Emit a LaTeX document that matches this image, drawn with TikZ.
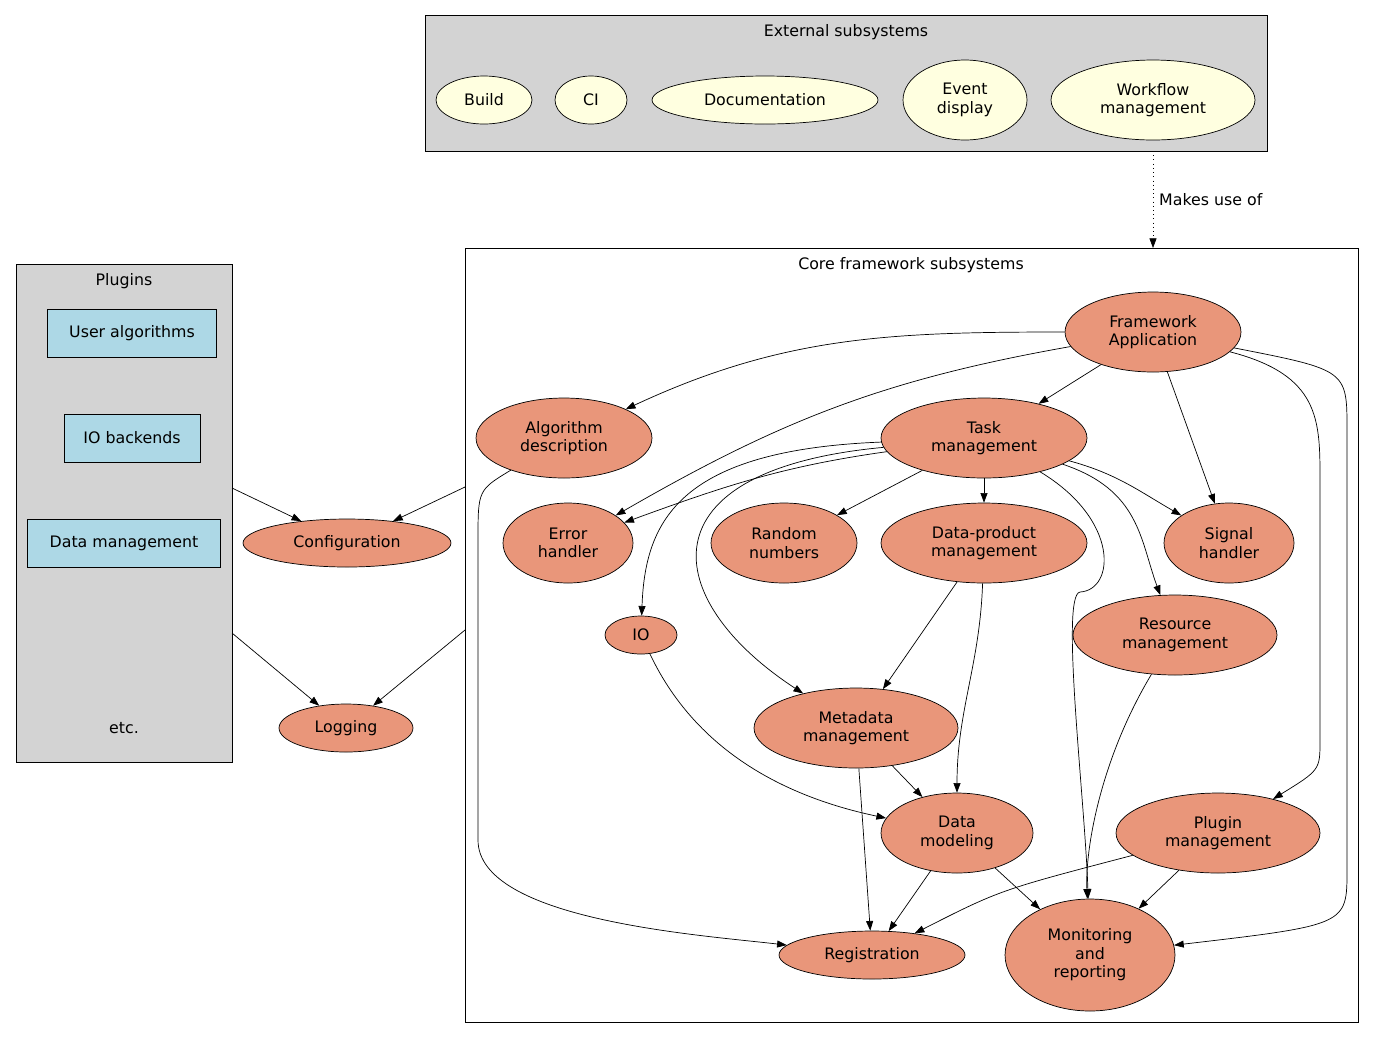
\documentclass[tikz,border=0pt]{standalone}
\usepackage{fontspec}
\setmainfont{DejaVu Sans}
\usetikzlibrary{shapes.geometric,arrows.meta}
\definecolor{salmonfill}{RGB}{233,150,122}
\definecolor{extfill}{RGB}{255,255,224}
\definecolor{boxgray}{RGB}{211,211,211}
\definecolor{plugblue}{RGB}{173,216,230}
\tikzset{
  sub/.style={ellipse,draw,fill=salmonfill,inner sep=0pt,align=center,font=\fontsize{9}{10.5}\selectfont},
  ext/.style={ellipse,draw,fill=extfill,inner sep=0pt,align=center,font=\fontsize{9}{10.5}\selectfont},
  plug/.style={rectangle,draw,fill=plugblue,inner sep=0pt,font=\fontsize{9}{10.5}\selectfont},
  lbl/.style={font=\fontsize{9}{10.5}\selectfont},
  edge/.style={-{Triangle[length=5.5pt,width=4pt]}},
}
\begin{document}
\begin{tikzpicture}[x=0.02cm,y=-0.02cm]
  \useasboundingbox (0,0) rectangle (1375,1039);
  % boxes
  \draw[fill=boxgray] (425,15) rectangle (1267,151);
  \node[lbl] (exttitle) at (846,32) {External subsystems};
  \draw (465,248) rectangle (1358,1022);
  \node[lbl] (coretitle) at (911,265) {Core framework subsystems};
  \draw[fill=boxgray] (16,264) rectangle (232,762);
  \node[lbl] (plugtitle) at (124,281) {Plugins};

  % external subsystems
  \node[ext,minimum width=1.92cm,minimum height=0.96cm] (build) at (484,100) {Build};
  \node[ext,minimum width=1.44cm,minimum height=0.96cm] (ci) at (591,100) {CI};
  \node[ext,minimum width=4.52cm,minimum height=0.96cm] (doc) at (765,100) {Documentation};
  \node[ext,minimum width=2.48cm,minimum height=1.6cm] (evd) at (965,100) {Event\\display};
  \node[ext,minimum width=4.08cm,minimum height=1.6cm] (wfm) at (1153,100) {Workflow\\management};

  % plugins
  \node[plug,minimum width=3.38cm,minimum height=0.96cm] (ualg) at (132,333) {User algorithms};
  \node[plug,minimum width=2.72cm,minimum height=0.96cm] (iob) at (132,438) {IO backends};
  \node[plug,minimum width=3.86cm,minimum height=0.96cm] (dman) at (124,543) {Data management};
  \node[lbl] (etc) at (124,728) {etc.};

  % outside nodes
  \node[sub,minimum width=4.16cm,minimum height=0.96cm] (conf) at (347,543) {Configuration};
  \node[sub,minimum width=2.68cm,minimum height=0.96cm] (log) at (346,728) {Logging};

  % core subsystems
  \node[sub,minimum width=3.52cm,minimum height=1.6cm] (fa) at (1153,332) {Framework\\Application};
  \node[sub,minimum width=3.52cm,minimum height=1.6cm] (alg) at (564,438) {Algorithm\\description};
  \node[sub,minimum width=4.12cm,minimum height=1.6cm] (task) at (984,438) {Task\\management};
  \node[sub,minimum width=2.6cm,minimum height=1.6cm] (err) at (568,543) {Error\\handler};
  \node[sub,minimum width=2.92cm,minimum height=1.6cm] (rnd) at (784,543) {Random\\numbers};
  \node[sub,minimum width=4.12cm,minimum height=1.6cm] (dp) at (984,543) {Data-product\\management};
  \node[sub,minimum width=2.6cm,minimum height=1.6cm] (sig) at (1229,543) {Signal\\handler};
  \node[sub,minimum width=1.44cm,minimum height=0.76cm] (io) at (641,635) {IO};
  \node[sub,minimum width=4.08cm,minimum height=1.6cm] (res) at (1175,635) {Resource\\management};
  \node[sub,minimum width=4.08cm,minimum height=1.6cm] (meta) at (856,728) {Metadata\\management};
  \node[sub,minimum width=3.04cm,minimum height=1.6cm] (dm) at (957,833) {Data\\modeling};
  \node[sub,minimum width=4.08cm,minimum height=1.6cm] (pm) at (1218,833) {Plugin\\management};
  \node[sub,minimum width=3.72cm,minimum height=0.96cm] (reg) at (872,955) {Registration};
  \node[sub,minimum width=3.4cm,minimum height=2.24cm] (mon) at (1090,955) {Monitoring\\and\\reporting};

  % cluster edge ends
  \coordinate (plugA) at (232,488);
  \coordinate (plugB) at (232,633);
  \coordinate (coreA) at (465,487);
  \coordinate (coreB) at (465,630);
  \coordinate (extout) at (1153,151);
  \coordinate (corein) at (1153,248);

  \draw[edge] (plugA) -- (conf);
  \draw[edge] (coreA) -- (conf);
  \draw[edge] (plugB) -- (log);
  \draw[edge] (coreB) -- (log);
  \draw[edge,dotted] (extout) -- (corein) node[midway,right,lbl] {Makes use of};

  % framework application
  \draw[edge] (fa) to[out=180,in=25] (alg);
  \draw[edge] (fa) to[out=190,in=30] (err);
  \draw[edge] (fa) -- (task);
  \draw[edge] (fa) -- (sig);
  \draw[edge] (fa) .. controls (1320,375) and (1320,420) .. (1320,480) -- (1320,740) .. controls (1320,770) .. (pm);
  \draw[edge] (fa) .. controls (1347,370) .. (1347,430) -- (1347,870) .. controls (1347,925) .. (mon);

  % task management
  \draw[edge] (task) to[out=188,in=20] (err);
  \draw[edge] (task) .. controls (680,450) and (645,520) .. (io);
  \draw[edge] (task) .. controls (640,470) and (660,600) .. (meta);
  \draw[edge] (task) -- (rnd);
  \draw[edge] (task) -- (dp);
  \draw[edge] (task) to[out=-15,in=150] (sig);
  \draw[edge] (task) .. controls (1140,490) and (1140,540) .. (res);
  \draw[edge] (task) .. controls (1120,520) and (1115,590) .. (1080,592) .. controls (1060,595) and (1085,800) .. (mon);

  % others
  \draw[edge] (alg) .. controls (478,490) .. (478,540) -- (478,840) .. controls (478,920) and (700,935) .. (reg);
  \draw[edge] (dp) -- (meta);
  \draw[edge] (dp) to[out=-92,in=90] (dm);
  \draw[edge] (io) .. controls (700,760) and (800,800) .. (dm);
  \draw[edge] (meta) -- (dm);
  \draw[edge] (meta) -- (reg);
  \draw[edge] (dm) -- (reg);
  \draw[edge] (dm) -- (mon);
  \draw[edge] (res) .. controls (1100,760) and (1085,850) .. (mon);
  \draw[edge] (pm) .. controls (1000,890) .. (reg);
  \draw[edge] (pm) -- (mon);
\end{tikzpicture}
\end{document}
